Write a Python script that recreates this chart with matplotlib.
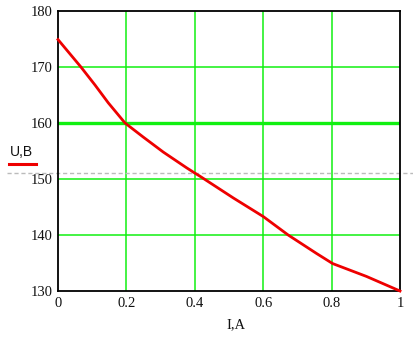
import matplotlib
matplotlib.use("Agg")
import matplotlib.pyplot as plt

# Data
I_vals = [0.0, 0.067, 0.108, 0.147, 0.196, 0.249, 0.308, 0.376, 0.399, 0.415,
          0.513, 0.6, 0.673, 0.756, 0.803, 0.902, 1.0]
U_vals = [174.9, 170.0, 166.8, 163.6, 160.0, 157.5, 154.8, 152.0, 151.1, 150.5,
          146.6, 143.3, 140.0, 136.7, 134.9, 132.6, 130.0]
x_ticks = [0, 0.2, 0.4, 0.6, 0.8, 1]
x_tick_labels = ["0", "0.2", "0.4", "0.6", "0.8", "1"]
y_ticks = [130, 140, 150, 160, 170, 180]
marker_green = 160
marker_dashed = 151.0

W, H = 413, 337
fig = plt.figure(figsize=(W / 100, H / 100), dpi=100)
left, right, top, bottom = 58, 400, 11, 291
ax = fig.add_axes([left / W, 1 - bottom / H, (right - left) / W, (bottom - top) / H])

ax.set_xlim(0, 1)
ax.set_ylim(130, 180)

green = "#11f011"
for xv in x_ticks[1:-1]:
    ax.axvline(xv, color=green, lw=1.1, zorder=1)
for yv in y_ticks[1:-1]:
    ax.axhline(yv, color=green, lw=2.4 if yv == marker_green else 1.1, zorder=1)

ax.axhline(marker_dashed, xmin=(7 - left) / (right - left), xmax=(W - left) / (right - left),
           color="#bbbbbb", lw=1.0, ls=(0, (3, 2)), clip_on=False, zorder=2)

ax.plot(I_vals, U_vals, color="#ee0000", lw=2.0, zorder=3, clip_on=False)

ax.set_xticks(x_ticks)
ax.set_xticklabels(x_tick_labels)
ax.set_yticks(y_ticks)
ax.tick_params(length=0, pad=4, labelsize=10.5, colors="#111111")
for lab in ax.get_xticklabels() + ax.get_yticklabels():
    lab.set_fontfamily("Liberation Serif")
for s in ax.spines.values():
    s.set_color("black")
    s.set_linewidth(1.3)

fig.text(21 / W, 1 - 152 / H, "U,B", ha="center", va="center", fontsize=10,
         family="Liberation Sans", color="#111111")
fig.add_artist(plt.Line2D([9 / W, 36 / W], [1 - 164 / H, 1 - 164 / H], color="#ee0000", lw=2.2))
fig.text(236 / W, 1 - 325 / H, "I,A", ha="center", va="center", fontsize=10.5,
         family="Liberation Serif", color="#111111")

fig.savefig("out.png", dpi=100)
